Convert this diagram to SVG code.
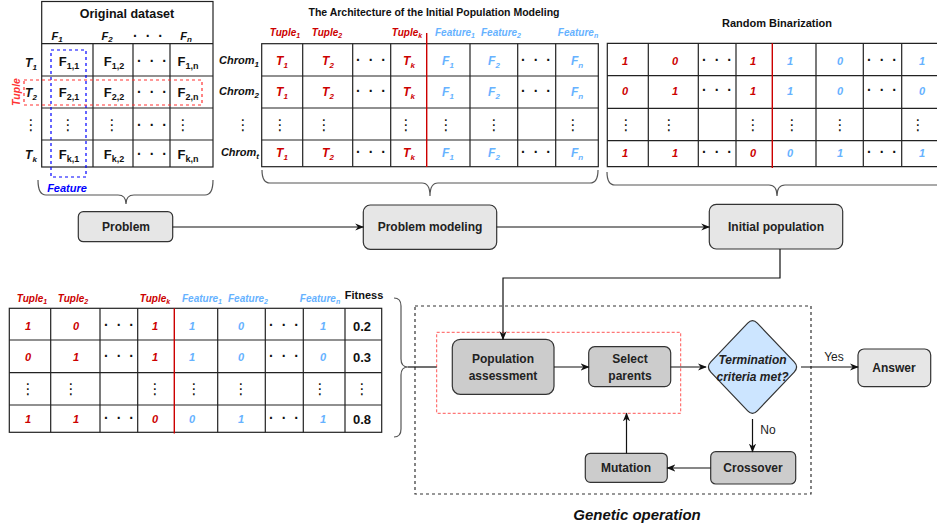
<svg xmlns="http://www.w3.org/2000/svg" width="937" height="529" viewBox="0 0 937 529">
<style>
text { font-family: "Liberation Sans", Arial, Helvetica, sans-serif; }
.b { font-weight: bold; }
.bi { font-weight: bold; font-style: italic; }
.m { text-anchor: middle; }
.red { fill: #cc0000; }
.lb { fill: #66b2ff; }
.vd { font-family: "DejaVu Sans", sans-serif; font-size: 15px; text-anchor: middle; fill: #111; }
.hd { font-size: 14px; font-weight: bold; text-anchor: middle; fill: #111; letter-spacing: 2px; }
.grid { stroke: #222; stroke-width: 1.2; fill: none; }
.redline { stroke: #cc0000; stroke-width: 1.4; }
.brace { stroke: #555; stroke-width: 1.2; fill: none; }
.box1 { fill: #e6e6e6; stroke: #333; stroke-width: 1.2; }
.box2 { fill: #cccccc; stroke: #333; stroke-width: 1.2; }
.conn { stroke: #111; stroke-width: 1.2; fill: none; }
.lbl { font-size: 12px; font-weight: bold; text-anchor: middle; fill: #222; }
</style>
<defs>
<marker id="arr" viewBox="0 0 10 10" refX="9" refY="5" markerWidth="9" markerHeight="9" markerUnits="userSpaceOnUse" orient="auto">
<path d="M0,1 L10,5 L0,9 L3,5 z" fill="#111"/>
</marker>
</defs>

<!-- Original dataset -->
<g id="original-dataset">
<rect class="grid" x="41.7" y="1.5" width="171.3" height="165.5"/>
<path class="grid" d="M41.7,43.7H213 M41.7,76H213 M41.7,108H213 M41.7,140H213 M93,43.7V167 M133,43.7V167 M170,43.7V167"/>
<text class="b m" x="127" y="18" font-size="12.5" fill="#111">Original dataset</text>
<g class="bi m" font-size="11" fill="#111">
<text x="57" y="40">F<tspan dy="2" font-size="8">1</tspan></text>
<text x="107" y="40">F<tspan dy="2" font-size="8">2</tspan></text>
<text x="186" y="40">F<tspan dy="2" font-size="8">n</tspan></text>
</g>
<text class="hd" x="149" y="41">· · ·</text>
<g class="bi m" font-size="12" fill="#111">
<text x="31" y="67">T<tspan dy="3" font-size="8">1</tspan></text>
<text x="31" y="97">T<tspan dy="3" font-size="8">2</tspan></text>
<text x="31" y="159">T<tspan dy="3" font-size="8">k</tspan></text>
</g>
<text class="vd" x="31" y="130">⋮</text>
<g class="b m" font-size="13" fill="#111">
<text x="69" y="66">F<tspan dy="3" font-size="9">1,1</tspan></text>
<text x="114" y="66">F<tspan dy="3" font-size="9">1,2</tspan></text>
<text x="188" y="66">F<tspan dy="3" font-size="9">1,n</tspan></text>
<text x="69" y="97">F<tspan dy="3" font-size="9">2,1</tspan></text>
<text x="114" y="97">F<tspan dy="3" font-size="9">2,2</tspan></text>
<text x="188" y="97">F<tspan dy="3" font-size="9">2,n</tspan></text>
<text x="69" y="159">F<tspan dy="3" font-size="9">k,1</tspan></text>
<text x="114" y="159">F<tspan dy="3" font-size="9">k,2</tspan></text>
<text x="188" y="159">F<tspan dy="3" font-size="9">k,n</tspan></text>
</g>
<text class="hd" x="153" y="66">· · ·</text>
<text class="hd" x="153" y="97">· · ·</text>
<text class="hd" x="153" y="130">· · ·</text>
<text class="hd" x="153" y="159">· · ·</text>
<text class="vd" x="68" y="130">⋮</text>
<text class="vd" x="112" y="130">⋮</text>
<text class="vd" x="183" y="130">⋮</text>
<rect x="51" y="50" width="35" height="127" fill="none" stroke="#0000ff" stroke-width="1.2" stroke-dasharray="3 3"/>
<rect x="24" y="80" width="178" height="25" fill="none" stroke="#ff3333" stroke-width="1.2" stroke-dasharray="3 3"/>
<text class="bi m" x="19.5" y="92" font-size="10.5" fill="#ff3333" transform="rotate(-90 19.5 92)">Tuple</text>
<text class="bi m" x="67" y="192" font-size="11" fill="#0000ff">Feature</text>
<path class="brace" d="M38,180 Q38,195 46,195 L118,195 Q126,195 126,204 Q126,195 134,195 L205,195 Q213,195 213,180"/>
</g>

<!-- Architecture of the initial population modeling -->
<g id="architecture">
<text class="b m" x="434" y="16" font-size="10.5" fill="#111">The Architecture of the Initial Population Modeling</text>
<rect class="grid" x="261.7" y="43.7" width="336.6" height="123"/>
<path class="grid" d="M261.7,76H598.3 M261.7,108H598.3 M261.7,140H598.3 M302.7,43.7V166.7 M352.7,43.7V166.7 M390.7,43.7V166.7 M470,43.7V166.7 M517.7,43.7V166.7 M555.7,43.7V166.7"/>
<line class="redline" x1="426.7" y1="33" x2="426.7" y2="167" stroke="#b30000"/>
<g class="bi m" font-size="10">
<text class="red" x="285" y="36">Tuple<tspan dy="2" font-size="7">1</tspan></text>
<text class="red" x="327" y="36">Tuple<tspan dy="2" font-size="7">2</tspan></text>
<text class="red" x="407" y="36">Tuple<tspan dy="2" font-size="7">k</tspan></text>
<text class="lb" x="455" y="36">Feature<tspan dy="2" font-size="7">1</tspan></text>
<text class="lb" x="501" y="36">Feature<tspan dy="2" font-size="7">2</tspan></text>
<text class="lb" x="578" y="36">Feature<tspan dy="2" font-size="7">n</tspan></text>
</g>
<g class="bi" font-size="11" fill="#111" text-anchor="end">
<text x="259" y="64">Chrom<tspan dy="3" font-size="8">1</tspan></text>
<text x="259" y="95">Chrom<tspan dy="3" font-size="8">2</tspan></text>
<text x="259" y="156">Chrom<tspan dy="3" font-size="8">t</tspan></text>
</g>
<text class="vd" x="243" y="130">⋮</text>
<g class="bi m" font-size="12">
<text class="red" x="282" y="65">T<tspan dy="3" font-size="8">1</tspan></text>
<text class="red" x="328" y="65">T<tspan dy="3" font-size="8">2</tspan></text>
<text class="red" x="409" y="65">T<tspan dy="3" font-size="8">k</tspan></text>
<text class="lb" x="448" y="65">F<tspan dy="3" font-size="8">1</tspan></text>
<text class="lb" x="494" y="65">F<tspan dy="3" font-size="8">2</tspan></text>
<text class="lb" x="577" y="65">F<tspan dy="3" font-size="8">n</tspan></text>
<text class="red" x="282" y="96">T<tspan dy="3" font-size="8">1</tspan></text>
<text class="red" x="328" y="96">T<tspan dy="3" font-size="8">2</tspan></text>
<text class="red" x="409" y="96">T<tspan dy="3" font-size="8">k</tspan></text>
<text class="lb" x="448" y="96">F<tspan dy="3" font-size="8">1</tspan></text>
<text class="lb" x="494" y="96">F<tspan dy="3" font-size="8">2</tspan></text>
<text class="lb" x="577" y="96">F<tspan dy="3" font-size="8">n</tspan></text>
<text class="red" x="282" y="157">T<tspan dy="3" font-size="8">1</tspan></text>
<text class="red" x="328" y="157">T<tspan dy="3" font-size="8">2</tspan></text>
<text class="red" x="409" y="157">T<tspan dy="3" font-size="8">k</tspan></text>
<text class="lb" x="448" y="157">F<tspan dy="3" font-size="8">1</tspan></text>
<text class="lb" x="494" y="157">F<tspan dy="3" font-size="8">2</tspan></text>
<text class="lb" x="577" y="157">F<tspan dy="3" font-size="8">n</tspan></text>
</g>
<text class="hd" x="372" y="65">· · ·</text>
<text class="hd" x="372" y="96">· · ·</text>
<text class="hd" x="372" y="157">· · ·</text>
<text class="hd" x="537" y="65">· · ·</text>
<text class="hd" x="537" y="96">· · ·</text>
<text class="hd" x="537" y="157">· · ·</text>
<text class="vd" x="280" y="130">⋮</text>
<text class="vd" x="324" y="130">⋮</text>
<text class="vd" x="406" y="130">⋮</text>
<text class="vd" x="446" y="130">⋮</text>
<text class="vd" x="494" y="130">⋮</text>
<text class="vd" x="573" y="130">⋮</text>
<path class="brace" d="M262,170 Q262,183 270,183 L422,183 Q430,183 430,196 Q430,183 438,183 L590,183 Q598,183 598,170"/>
</g>

<!-- Random binarization -->
<g id="random-binarization">
<text class="b m" x="777" y="27" font-size="11" fill="#111">Random Binarization</text>
<path class="grid" d="M945,43.3H607.3V166.7H945 M607.3,75.7H945 M607.3,108.3H945 M607.3,140.7H945 M648.3,43.3V166.7 M698.3,43.3V166.7 M736,43.3V166.7 M816,43.3V166.7 M863.3,43.3V166.7 M901.7,43.3V166.7"/>
<line class="redline" x1="772.3" y1="43.3" x2="772.3" y2="168"/>
<g class="bi m" font-size="11">
<text class="red" x="625" y="65">1</text><text class="red" x="675" y="65">0</text><text class="red" x="753" y="65">1</text>
<text class="lb" x="790" y="65">1</text><text class="lb" x="840" y="65">0</text><text class="lb" x="922" y="65">1</text>
<text class="red" x="625" y="95">0</text><text class="red" x="675" y="95">1</text><text class="red" x="753" y="95">1</text>
<text class="lb" x="790" y="95">1</text><text class="lb" x="840" y="95">0</text><text class="lb" x="922" y="95">0</text>
<text class="red" x="625" y="157">1</text><text class="red" x="675" y="157">1</text><text class="red" x="753" y="157">0</text>
<text class="lb" x="790" y="157">0</text><text class="lb" x="840" y="157">1</text><text class="lb" x="922" y="157">1</text>
</g>
<text class="hd" x="718" y="65">· · ·</text>
<text class="hd" x="718" y="95">· · ·</text>
<text class="hd" x="718" y="157">· · ·</text>
<text class="hd" x="883" y="65">· · ·</text>
<text class="hd" x="883" y="95">· · ·</text>
<text class="hd" x="883" y="157">· · ·</text>
<text class="vd" x="626" y="130">⋮</text>
<text class="vd" x="669" y="130">⋮</text>
<text class="vd" x="753" y="130">⋮</text>
<text class="vd" x="792" y="130">⋮</text>
<text class="vd" x="840" y="130">⋮</text>
<text class="vd" x="918" y="130">⋮</text>
<path class="brace" d="M607,172 Q607,185 615,185 L769,185 Q777,185 777,196 Q777,185 785,185 L937,185 Q945,185 945,172"/>
</g>

<!-- Fitness table -->
<g id="fitness-table">
<rect class="grid" x="9.3" y="308.3" width="372.4" height="124"/>
<path class="grid" d="M9.3,340H381.7 M9.3,372.7H381.7 M9.3,405H381.7 M50.7,308.3V432.3 M100,308.3V432.3 M137.7,308.3V432.3 M217.7,308.3V432.3 M265.3,308.3V432.3 M303.3,308.3V432.3 M345,308.3V432.3"/>
<line class="redline" x1="174.3" y1="308.3" x2="174.3" y2="433.5" stroke="#dd0000"/>
<g class="bi m" font-size="10">
<text class="red" x="32" y="302">Tuple<tspan dy="2" font-size="7">1</tspan></text>
<text class="red" x="73" y="302">Tuple<tspan dy="2" font-size="7">2</tspan></text>
<text class="red" x="155" y="302">Tuple<tspan dy="2" font-size="7">k</tspan></text>
<text class="lb" x="202" y="302">Feature<tspan dy="2" font-size="7">1</tspan></text>
<text class="lb" x="248" y="302">Feature<tspan dy="2" font-size="7">2</tspan></text>
<text class="lb" x="320" y="302">Feature<tspan dy="2" font-size="7">n</tspan></text>
</g>
<text class="b m" x="364" y="299" font-size="11" fill="#111">Fitness</text>
<g class="bi m" font-size="11">
<text class="red" x="28" y="330">1</text><text class="red" x="76" y="330">0</text><text class="red" x="155" y="330">1</text>
<text class="lb" x="192" y="330">1</text><text class="lb" x="241" y="330">0</text><text class="lb" x="323" y="330">1</text>
<text class="red" x="28" y="361">0</text><text class="red" x="76" y="361">1</text><text class="red" x="155" y="361">1</text>
<text class="lb" x="192" y="361">1</text><text class="lb" x="241" y="361">0</text><text class="lb" x="323" y="361">0</text>
<text class="red" x="28" y="423">1</text><text class="red" x="76" y="423">1</text><text class="red" x="155" y="423">0</text>
<text class="lb" x="192" y="423">0</text><text class="lb" x="241" y="423">1</text><text class="lb" x="323" y="423">1</text>
</g>
<g class="b m" font-size="13" fill="#111">
<text x="362" y="331">0.2</text>
<text x="362" y="362">0.3</text>
<text x="362" y="424">0.8</text>
</g>
<text class="hd" x="120" y="330">· · ·</text>
<text class="hd" x="120" y="361">· · ·</text>
<text class="hd" x="120" y="423">· · ·</text>
<text class="hd" x="285" y="330">· · ·</text>
<text class="hd" x="285" y="361">· · ·</text>
<text class="hd" x="285" y="423">· · ·</text>
<text class="vd" x="28" y="394">⋮</text>
<text class="vd" x="71" y="394">⋮</text>
<text class="vd" x="155" y="394">⋮</text>
<text class="vd" x="194" y="394">⋮</text>
<text class="vd" x="241" y="394">⋮</text>
<text class="vd" x="320" y="394">⋮</text>
<text class="vd" x="362" y="394">⋮</text>
<path class="brace" d="M394,298 Q401,298 401,306 L401,359 Q401,367 408,367 Q401,367 401,375 L401,429 Q401,437 394,437"/>
</g>

<!-- Flow nodes -->
<g id="problem">
<rect class="box1" x="78.3" y="211.7" width="94.4" height="30" rx="5"/>
<text class="lbl" x="126" y="231">Problem</text>
</g>
<g id="problem-modeling">
<rect class="box1" x="363.3" y="205" width="133.4" height="44.3" rx="7"/>
<text class="lbl" x="430" y="231">Problem modeling</text>
</g>
<g id="initial-population">
<rect class="box1" x="709.3" y="204.3" width="133.4" height="44.7" rx="7"/>
<text class="lbl" x="776" y="231">Initial population</text>
</g>

<!-- Genetic operation -->
<g id="genetic-operation">
<rect x="415" y="306" width="396" height="188" fill="none" stroke="#333" stroke-width="1.2" stroke-dasharray="3 3"/>
<text class="bi m" x="637" y="520" font-size="15" fill="#111">Genetic operation</text>
</g>
<g id="selection-group">
<rect x="436.7" y="332.3" width="244" height="81" fill="none" stroke="#ff5555" stroke-width="1" stroke-dasharray="3 2"/>
</g>
<g id="population-assessment">
<rect class="box2" x="452.3" y="339.3" width="101.7" height="55" rx="8"/>
<text class="lbl" x="503" y="363">Population</text>
<text class="lbl" x="503" y="380">assessment</text>
</g>
<g id="select-parents">
<rect class="box2" x="588.7" y="346.7" width="82" height="40" rx="6"/>
<text class="lbl" x="630" y="363">Select</text>
<text class="lbl" x="630" y="380">parents</text>
</g>
<g id="termination">
<path d="M710.8,361.9 L747.7,323.1 Q752.5,318 757.3,323.1 L794.2,361.9 Q799,367 794.2,372.1 L757.3,410.9 Q752.5,416 747.7,410.9 L710.8,372.1 Q706,367 710.8,361.9 Z" fill="#cce5ff" stroke="#333" stroke-width="1.2"/>
<text class="bi m" x="752.5" y="364" font-size="12" fill="#222">Termination</text>
<text class="bi m" x="752.5" y="381" font-size="12" fill="#222">criteria met?</text>
</g>
<g id="answer">
<rect class="box1" x="858" y="349" width="72.7" height="37.7" rx="6"/>
<text class="lbl" x="894" y="372">Answer</text>
</g>
<g id="crossover">
<rect class="box2" x="710.7" y="451.7" width="85" height="32.3" rx="5"/>
<text class="lbl" x="753" y="472">Crossover</text>
</g>
<g id="mutation">
<rect class="box2" x="585.3" y="453.3" width="82" height="29" rx="5"/>
<text class="lbl" x="626" y="472">Mutation</text>
</g>

<!-- Connectors -->
<g id="connectors">
<path class="conn" d="M172.7,227H363.3" marker-end="url(#arr)"/>
<path class="conn" d="M496.7,227H709.3" marker-end="url(#arr)"/>
<path class="conn" d="M780,249V278H503V339.3" marker-end="url(#arr)"/>
<path class="conn" d="M554,367H588.7" marker-end="url(#arr)"/>
<path class="conn" d="M670.7,367H706" marker-end="url(#arr)"/>
<path class="conn" d="M801,367H858" marker-end="url(#arr)"/>
<text x="834" y="361" font-size="12" text-anchor="middle" fill="#222">Yes</text>
<path class="conn" d="M752.5,419V451.7" marker-end="url(#arr)"/>
<text x="768" y="434" font-size="12" text-anchor="middle" fill="#222">No</text>
<path class="conn" d="M710.7,468H667.3" marker-end="url(#arr)"/>
<path class="conn" d="M626.5,453.3V413.3" marker-end="url(#arr)"/>
<path class="conn" d="M408,367H436.7"/>
</g>
</svg>
